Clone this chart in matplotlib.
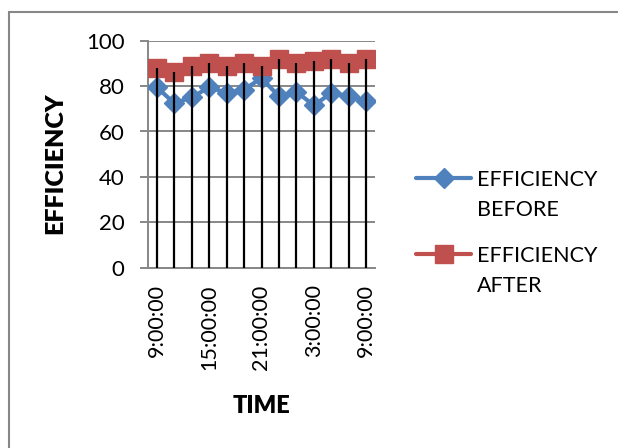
import matplotlib
matplotlib.use("Agg")
import matplotlib.pyplot as plt
from matplotlib.patches import Rectangle
from matplotlib.legend_handler import HandlerLine2D
import numpy as np

plt.rcParams['font.family'] = ['Lato', 'DejaVu Sans']

times = ["9:00:00", "11:00:00", "13:00:00", "15:00:00", "17:00:00", "19:00:00",
         "21:00:00", "23:00:00", "1:00:00", "3:00:00", "5:00:00", "7:00:00", "9:00:00"]
eff_before = [79.5, 72.5, 75, 79.5, 77, 78.5, 83.5, 75.5, 77.5, 71.5, 77, 75.5, 73.5]
eff_after = [88, 86, 89, 90, 89, 90, 89, 92, 90, 91, 92, 90, 92]
yticks = [0, 20, 40, 60, 80, 100]


class UpHandler(HandlerLine2D):
    """Line handle aligned with the first line of a two-line label."""
    def __init__(self, dy, **kw):
        super().__init__(**kw)
        self.dy = dy

    def create_artists(self, legend, orig_handle, xdescent, ydescent, width,
                       height, fontsize, trans):
        arts = super().create_artists(legend, orig_handle, xdescent, ydescent,
                                      width, height, fontsize, trans)
        for a in arts:
            a.set_ydata(np.asarray(a.get_ydata(), dtype=float) + self.dy)
        return arts


W, H = 618, 448
fig = plt.figure(figsize=(W / 100, H / 100), dpi=100)
ax = fig.add_axes([148 / W, 1 - 267.7 / H, (375 - 148) / W, (267.7 - 40.7) / H])

x = np.arange(len(times))
grid_c = '#878787'
blue = '#4F81BD'
red = '#C0504D'

l1, = ax.plot(x, eff_before, color=blue, lw=3, marker='D', ms=10, zorder=3,
              solid_capstyle='round', label='EFFICIENCY\nBEFORE')
l2, = ax.plot(x, eff_after, color=red, lw=3, marker='s', ms=12.5, zorder=3,
              solid_capstyle='round', label='EFFICIENCY\nAFTER')
ax.vlines(x, 0, np.maximum(eff_before, eff_after), color='black', lw=1.6, zorder=4)

ax.set_xlim(-0.5, len(times) - 0.5)
ax.set_ylim(0, 100)
ax.set_yticks(yticks)
ax.set_yticklabels([str(v) for v in yticks], fontsize=16)
ax.yaxis.grid(True, color=grid_c, lw=1.4)
ax.set_axisbelow(True)
ax.tick_params(axis='y', length=6, width=1.4, color=grid_c, pad=11)

ax.set_xticks(x[::3])
ax.set_xticklabels(times[::3], rotation=90, fontsize=15.5)
ax.tick_params(axis='x', length=0, pad=12)

for s in ['top', 'right']:
    ax.spines[s].set_visible(False)
ax.spines['left'].set_color(grid_c)
ax.spines['left'].set_linewidth(1.4)
ax.spines['bottom'].set_color(grid_c)
ax.spines['bottom'].set_linewidth(1.4)

ax.set_ylabel('EFFICIENCY', fontsize=18, fontweight='heavy')
ax.yaxis.set_label_coords((66 - 148) / (375 - 148), (267.7 - 163) / (267.7 - 40.7))
ax.set_xlabel('TIME', fontsize=17, fontweight='heavy')
ax.xaxis.set_label_coords(0.5, -(395 - 267.7) / (267.7 - 40.7))

leg_fs = 15.5
leg = ax.legend(handles=[l1, l2], loc='center left',
                bbox_to_anchor=(1.096, (267.7 - 233) / (267.7 - 40.7)),
                frameon=False, fontsize=leg_fs, handlelength=2.55,
                handletextpad=0.28, labelspacing=1.2,
                handler_map={l1: UpHandler(12.6), l2: UpHandler(12.6)})
for t in leg.get_texts():
    t.set_linespacing(1.65)

fig.patches.append(Rectangle((8.5 / W, -0.1), 1.2, (H - 11.5) / H + 0.1,
                             transform=fig.transFigure, fill=False,
                             edgecolor=grid_c, lw=1.5))

fig.savefig('out.png', dpi=100)
